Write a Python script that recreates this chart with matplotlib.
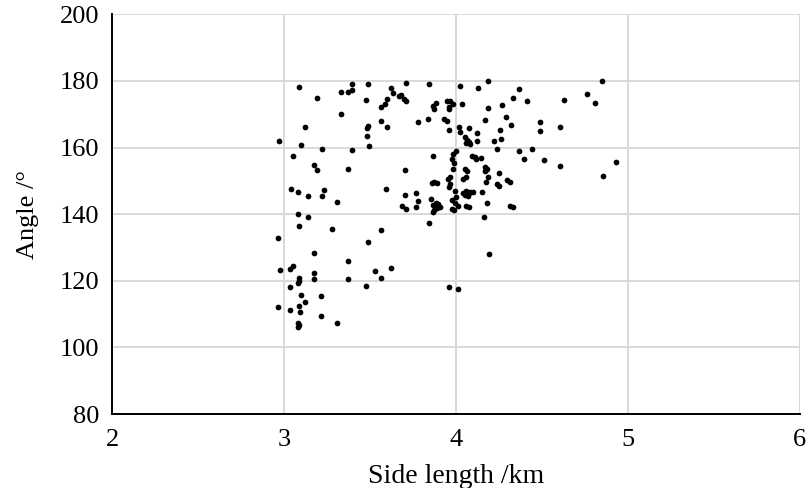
import matplotlib
matplotlib.use("Agg")
import matplotlib.pyplot as plt

side_length_km = [
    3.087, 3.395, 3.490, 3.194, 3.330, 3.374, 3.395, 3.477, 3.331, 3.120,
    2.973, 3.101, 3.223, 3.399, 3.496, 3.481, 3.492, 3.483, 3.051, 3.174,
    3.194, 3.374, 3.039, 3.084, 3.141, 3.233, 3.223, 3.308, 3.083, 3.141,
    3.087, 3.277, 2.967, 3.488, 3.173, 3.374, 2.975, 3.037, 3.051, 3.173,
    3.173, 3.087, 3.087, 3.080, 3.374, 3.529, 3.477, 3.037, 3.101, 3.213,
    3.120, 3.089, 2.967, 3.037, 3.093, 3.213, 3.080, 3.087, 3.083, 3.308,
    3.622, 3.637, 3.597, 3.589, 3.564, 3.670, 3.562, 3.597, 3.713, 3.845,
    4.023, 4.132, 4.190, 4.368, 3.682, 3.698, 3.709, 3.884, 3.868, 3.876,
    3.946, 3.969, 3.981, 3.961, 3.958, 4.035, 4.266, 4.330, 4.190, 3.783,
    3.841, 3.934, 3.946, 4.170, 4.291, 3.962, 4.016, 4.023, 4.077, 4.122,
    4.055, 4.066, 4.074, 4.081, 4.062, 4.122, 4.224, 4.263, 4.259, 4.322,
    4.241, 4.000, 3.868, 3.984, 3.977, 3.991, 4.093, 4.110, 4.144, 4.119,
    3.705, 3.983, 4.055, 4.064, 4.172, 4.182, 4.170, 4.253, 3.965, 4.058,
    4.190, 4.365, 4.178, 4.298, 4.240, 4.251, 3.864, 3.876, 3.888, 3.953,
    3.969, 3.958, 4.042, 3.593, 4.318, 3.705, 3.767, 3.783, 3.856, 3.884,
    3.899, 3.868, 3.891, 3.876, 3.911, 3.868, 3.980, 4.000, 3.995, 3.995,
    4.015, 3.980, 3.991, 4.061, 4.077, 4.042, 4.062, 4.077, 4.054, 4.085,
    4.070, 4.099, 4.151, 4.183, 4.318, 4.330, 3.686, 3.713, 3.767, 4.163,
    3.844, 3.565, 4.194, 3.624, 3.565, 3.961, 4.015,
    4.853, 4.415, 4.630, 4.762, 4.812, 4.490, 4.490, 4.609, 4.442, 4.399,
    4.516, 4.608, 4.934, 4.857,
]

angle_deg = [
    178.3, 179.2, 179.0, 174.9, 176.7, 176.7, 177.2, 174.3, 170.2, 166.1,
    162.1, 160.8, 159.7, 159.2, 160.4, 163.6, 166.5, 165.9, 157.6, 154.8,
    153.3, 153.7, 147.6, 146.8, 145.5, 147.2, 145.6, 143.7, 140.2, 139.1,
    136.4, 135.6, 132.8, 131.7, 128.2, 126.0, 123.3, 123.5, 124.3, 122.2,
    120.5, 120.8, 120.0, 119.2, 120.6, 122.8, 118.5, 118.0, 115.8, 115.5,
    113.7, 112.5, 112.0, 111.2, 110.5, 109.5, 107.4, 106.7, 106.2, 107.4,
    177.9, 176.3, 174.5, 173.1, 172.3, 175.5, 168.1, 166.1, 179.3, 179.0,
    178.5, 178.0, 180.0, 177.5, 175.8, 174.5, 174.1, 173.5, 172.5, 171.5,
    174.0, 174.0, 173.0, 172.3, 171.6, 173.2, 172.7, 174.8, 172.0, 167.7,
    168.7, 168.7, 168.1, 168.3, 169.3, 165.2, 166.1, 164.7, 165.8, 164.5,
    163.3, 162.4, 161.7, 161.0, 161.3, 162.1, 162.1, 162.6, 165.3, 166.7,
    159.5, 159.1, 157.5, 158.1, 156.7, 155.5, 157.4, 157.3, 156.9, 156.7,
    153.3, 153.7, 153.7, 153.1, 154.3, 153.5, 153.1, 152.5, 151.1, 151.1,
    151.1, 159.1, 149.7, 150.3, 149.1, 148.5, 149.3, 149.7, 149.5, 150.5,
    149.1, 148.3, 150.5, 147.7, 149.7, 145.7, 146.5, 143.9, 144.7, 143.5,
    143.1, 142.7, 141.9, 141.3, 142.3, 140.7, 144.4, 145.3, 147.0, 143.3,
    142.5, 141.7, 141.3, 142.6, 142.3, 146.5, 146.9, 146.3, 145.9, 146.7,
    145.5, 146.7, 146.7, 143.5, 142.5, 142.1, 142.5, 141.5, 142.1, 139.3,
    137.3, 135.3, 128.1, 123.9, 120.7, 118.2, 117.5,
    180.1, 174.0, 174.3, 176.1, 173.3, 167.7, 165.1, 166.3, 159.7, 156.5,
    156.2, 154.5, 155.8, 151.4,
]

x_ticks = [2, 3, 4, 5, 6]
y_ticks = [80, 100, 120, 140, 160, 180, 200]

plt.rcParams['font.family'] = ['Liberation Serif', 'DejaVu Serif']

fig = plt.figure(figsize=(8.07, 4.88), dpi=100)
ax = fig.add_axes([0.1388, 0.1516, 0.852, 0.819])

ax.scatter(side_length_km, angle_deg, s=17, color='black', zorder=3, linewidths=0)

ax.set_xlim(2, 6)
ax.set_ylim(80, 200)
ax.set_xticks(x_ticks)
ax.set_yticks(y_ticks)
ax.grid(True, color='#d9d9d9', linewidth=1.4, zorder=0)
ax.set_axisbelow(True)

for s in ['top', 'right']:
    ax.spines[s].set_visible(False)
for s in ['left', 'bottom']:
    ax.spines[s].set_color('black')
    ax.spines[s].set_linewidth(1.4)
    ax.spines[s].set_zorder(4)

ax.tick_params(axis='both', length=0, labelsize=19, colors='black')
ax.tick_params(axis='x', pad=11)
ax.tick_params(axis='y', pad=9)
ax.set_xlabel('Side length /km', fontsize=20, labelpad=9)
ax.set_ylabel('Angle /°', fontsize=19, labelpad=15)

fig.savefig('out.png', dpi=100)
